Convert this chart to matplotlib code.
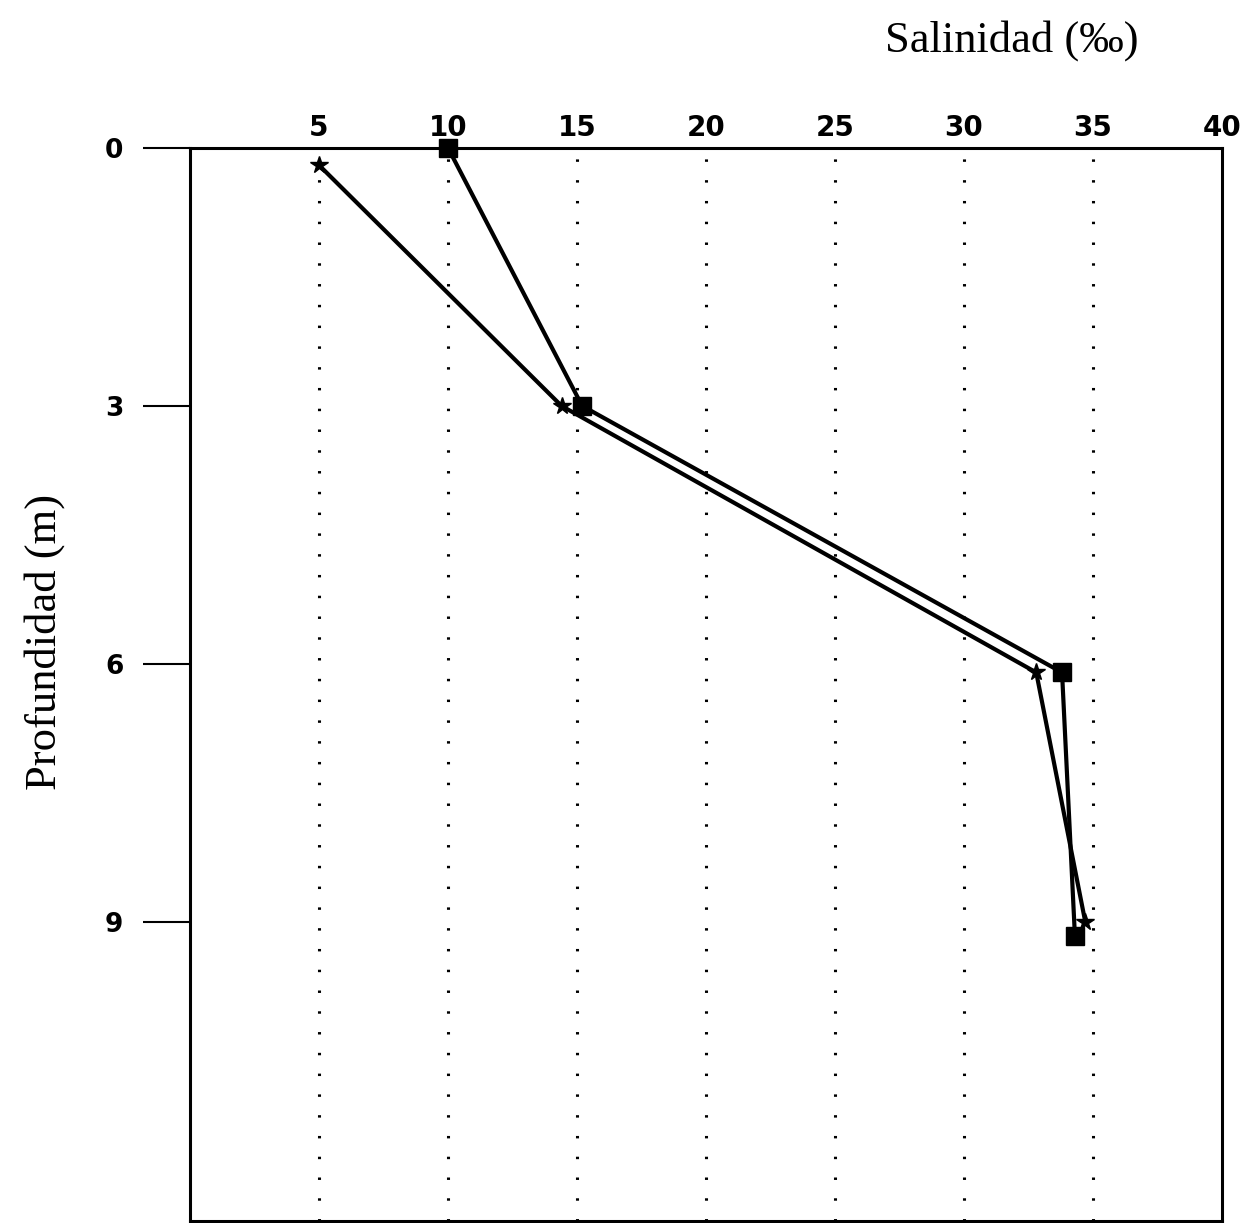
import numpy as np
import matplotlib.pyplot as plt

# perfiles de salinidad (dos estaciones)
prof_cuadro = [0.0, 3.0, 6.1, 9.17]
sal_cuadro = [10.0, 15.2, 33.8, 34.3]

prof_estrella = [0.2, 3.0, 6.1, 9.0]
sal_estrella = [5.0, 14.4, 32.8, 34.7]

xticks = [5, 10, 15, 20, 25, 30, 35, 40]
yticks = [0, 3, 6, 9]

fig = plt.figure(figsize=(12.43, 12.23), dpi=100)
ax = fig.add_axes([0.1529, 0.0016, 0.8302, 0.8774])

# rejilla punteada vertical
for xv in xticks[:-1]:
    ax.axvline(xv, color='black', lw=2.2, linestyle=(0, (0.8, 6)), zorder=1)

ax.plot(sal_cuadro, prof_cuadro, color='black', lw=3.0, marker='s',
        markersize=13, zorder=5, clip_on=False)
ax.plot(sal_estrella, prof_estrella, color='black', lw=3.0, marker='*',
        markersize=13, zorder=5, clip_on=False)

ax.set_xlim(0, 40)
ax.set_ylim(12.48, 0)

ax.xaxis.tick_top()
ax.set_xticks(xticks)
ax.set_xticklabels([str(v) for v in xticks], fontsize=20, fontweight='bold',
                   family='DejaVu Sans')
ax.tick_params(axis='x', length=0, pad=4)

ax.set_yticks(yticks)
ax.set_yticklabels([str(v) for v in yticks], fontsize=19, fontweight='bold',
                   family='DejaVu Sans')
ax.tick_params(axis='y', length=34, width=1.5, pad=14)

for s in ax.spines.values():
    s.set_linewidth(2.2)

fig.text(0.814, 0.967, 'Salinidad (‰)', fontsize=32, family='Liberation Serif',
         ha='center', va='center')
fig.text(0.036, 0.475, 'Profundidad (m)', fontsize=32, family='Liberation Serif',
         ha='center', va='center', rotation=90)

fig.savefig('out.png', dpi=100)
